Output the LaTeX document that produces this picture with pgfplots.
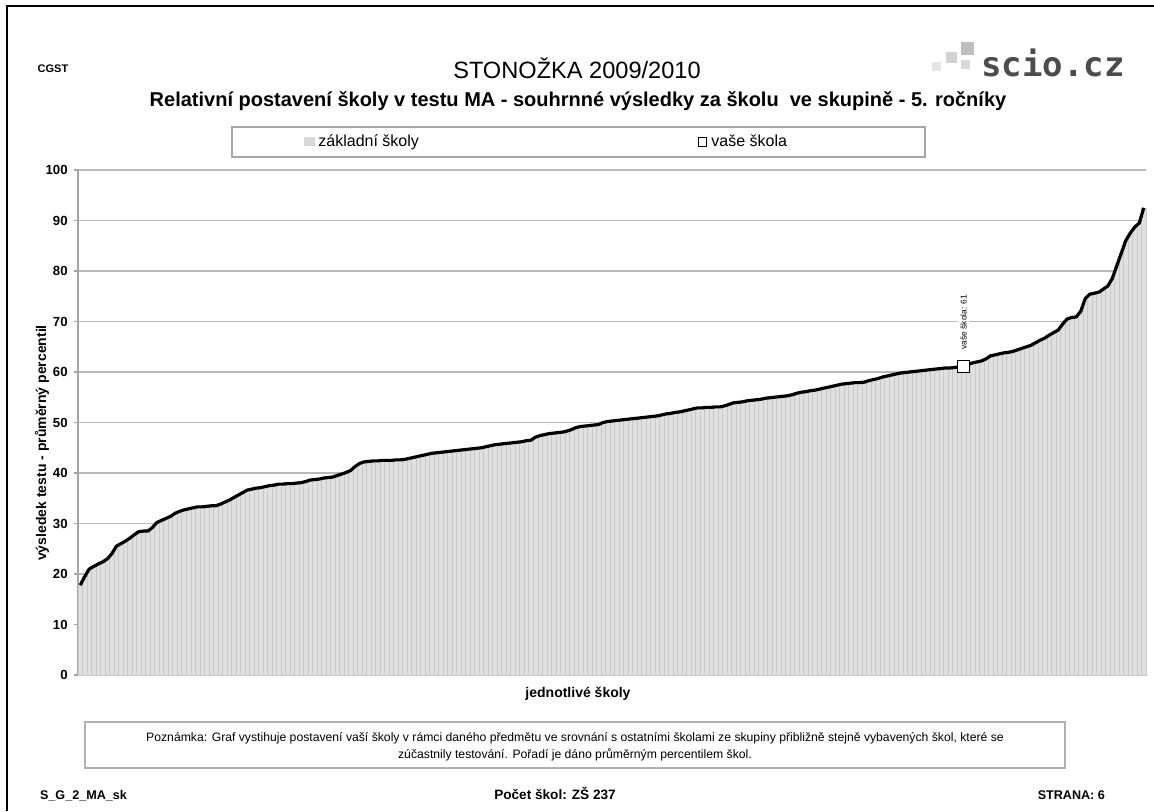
\documentclass[border=0pt]{standalone}
\usepackage{fontspec}
\setmainfont{Liberation Sans}
\newfontfamily\logofont{DejaVu Sans Mono}
\usepackage{pgfplots}
\pgfplotsset{compat=1.18}
\usepackage{pgfplotstable}

% average percentile of each school, sorted
\pgfplotstableread{
n v
1 17.8
2 19.5
3 21.0
4 21.5
5 22.0
6 22.4
7 23.0
8 24.0
9 25.5
10 26.0
11 26.5
12 27.1
13 27.8
14 28.4
15 28.5
16 28.5
17 29.2
18 30.2
19 30.6
20 31.0
21 31.4
22 32.0
23 32.4
24 32.7
25 32.9
26 33.1
27 33.3
28 33.3
29 33.4
30 33.5
31 33.5
32 33.8
33 34.2
34 34.6
35 35.1
36 35.6
37 36.1
38 36.6
39 36.8
40 37.0
41 37.1
42 37.3
43 37.5
44 37.6
45 37.8
46 37.8
47 37.9
48 37.9
49 38.0
50 38.1
51 38.3
52 38.6
53 38.7
54 38.8
55 39.0
56 39.1
57 39.2
58 39.5
59 39.8
60 40.1
61 40.5
62 41.3
63 41.9
64 42.2
65 42.3
66 42.4
67 42.4
68 42.5
69 42.5
70 42.5
71 42.6
72 42.6
73 42.7
74 42.9
75 43.1
76 43.3
77 43.5
78 43.7
79 43.9
80 44.0
81 44.1
82 44.2
83 44.3
84 44.4
85 44.5
86 44.6
87 44.7
88 44.8
89 44.9
90 45.0
91 45.2
92 45.4
93 45.6
94 45.7
95 45.8
96 45.9
97 46.0
98 46.1
99 46.2
100 46.4
101 46.5
102 47.1
103 47.4
104 47.6
105 47.8
106 47.9
107 48.0
108 48.1
109 48.3
110 48.6
111 49.0
112 49.2
113 49.3
114 49.4
115 49.5
116 49.6
117 50.0
118 50.2
119 50.3
120 50.4
121 50.5
122 50.6
123 50.7
124 50.8
125 50.9
126 51.0
127 51.1
128 51.2
129 51.3
130 51.5
131 51.7
132 51.8
133 52.0
134 52.1
135 52.3
136 52.5
137 52.7
138 52.9
139 52.9
140 53.0
141 53.0
142 53.1
143 53.1
144 53.3
145 53.6
146 53.9
147 54.0
148 54.1
149 54.3
150 54.4
151 54.5
152 54.6
153 54.8
154 54.9
155 55.0
156 55.1
157 55.2
158 55.3
159 55.5
160 55.8
161 56.0
162 56.1
163 56.3
164 56.4
165 56.6
166 56.8
167 57.0
168 57.2
169 57.4
170 57.6
171 57.7
172 57.8
173 57.9
174 57.9
175 58.0
176 58.3
177 58.5
178 58.7
179 59.0
180 59.2
181 59.4
182 59.6
183 59.8
184 59.9
185 60.0
186 60.1
187 60.2
188 60.3
189 60.4
190 60.5
191 60.6
192 60.7
193 60.8
194 60.8
195 60.9
196 61.0
197 61.0
198 61.5
199 61.8
200 62.0
201 62.2
202 62.6
203 63.2
204 63.4
205 63.6
206 63.8
207 63.9
208 64.1
209 64.4
210 64.7
211 65.0
212 65.3
213 65.8
214 66.3
215 66.7
216 67.3
217 67.8
218 68.3
219 69.5
220 70.5
221 70.8
222 70.9
223 72.0
224 74.5
225 75.4
226 75.6
227 75.8
228 76.4
229 77.0
230 78.5
231 81.0
232 83.5
233 86.0
234 87.5
235 88.7
236 89.5
237 92.5
}\skoly

\begin{document}
\begin{tikzpicture}
% page furniture, in pixels of the scanned page
\begin{scope}[x=0.5pt,y=-0.5pt]
\useasboundingbox (0,0) rectangle (1154,811);
\draw[line width=1.4pt] (7,811) -- (7,6) -- (1154,6);
\node[anchor=base, font=\bfseries\fontsize{5.5}{6}\selectfont] at (53,72) {CGST};
\node[anchor=base, font=\fontsize{11.8}{13}\selectfont] at (577,78) {STONOŽKA 2009/2010};
% scio logo
\fill[gray!20] (932,62) rectangle (941,71);
\fill[gray!35] (946,52) rectangle (957,63);
\fill[gray!50] (961,42) rectangle (974,55);
\fill[gray!30] (961,60) rectangle (970,69);
\node[font=\logofont\bfseries\fontsize{17}{18}\selectfont, text=black!70] at (1053,63) {scio.cz};
\node[anchor=base, font=\bfseries\fontsize{10}{11}\selectfont] at (578,106)
  {Relativní postavení školy v testu MA - souhrnné výsledky za školu\ \ ve skupině - 5. ročníky};
% legend
\draw[gray!70, line width=0.6pt] (232,127) rectangle (925,157);
\fill[gray!30] (304,137) rectangle (315,146);
\node[anchor=base west, font=\fontsize{8}{9}\selectfont, inner sep=1pt] at (316,146) {základní školy};
\draw[fill=white, line width=0.4pt] (698,137) rectangle (706,146);
\node[anchor=base west, font=\fontsize{8}{9}\selectfont, inner sep=1pt] at (709,146) {vaše škola};
% axis titles
\node[rotate=90, font=\bfseries\fontsize{7}{8}\selectfont] at (42,443) {výsledek testu - průměrný percentil};
\node[anchor=base, font=\bfseries\fontsize{7}{8}\selectfont] at (578,697) {jednotlivé školy};
% note
\draw[gray!60, line width=0.8pt] (85,722) rectangle (1065,768);
\node[anchor=base, font=\fontsize{6.1}{7}\selectfont] at (575,741) {Poznámka: Graf vystihuje postavení vaší školy v rámci daného předmětu ve srovnání s ostatními školami ze skupiny přibližně stejně vybavených škol, které se};
\node[anchor=base, font=\fontsize{6.1}{7}\selectfont] at (575,758) {zúčastnily testování. Pořadí je dáno průměrným percentilem škol.};
% footer
\node[anchor=base west, font=\bfseries\fontsize{6.3}{8}\selectfont] at (33,799) {S\_G\_2\_MA\_sk};
\node[anchor=base, font=\bfseries\fontsize{6.8}{8}\selectfont] at (555,799) {Počet škol: ZŠ 237};
\node[anchor=base east, font=\bfseries\fontsize{6.3}{8}\selectfont] at (1112,799) {STRANA: 6};
\end{scope}

\begin{axis}[
  at={(39pt,-337.5pt)}, anchor=south west,
  scale only axis, width=534pt, height=252.5pt,
  xmin=0.5, xmax=237.5, ymin=0, ymax=100,
  ytick={0,10,...,100}, xtick=\empty,
  axis x line*=bottom, axis y line*=left,
  axis line style={-, gray!70, line width=0.6pt},
  tick align=outside, major tick length=2pt,
  tick style={gray!70, line width=0.6pt},
  ymajorgrids, grid style={gray!55, line width=0.6pt},
  /pgf/number format/assume math mode=true,
  yticklabel style={font=\bfseries\fontsize{6.6}{7}\selectfont, inner sep=1pt, xshift=-2pt},
  clip=false,
]
\addplot[ybar, bar width=1, bar shift=0pt, fill=gray!24, draw=gray!42, line width=0.15pt]
  table[x=n, y=v] {\skoly};
\addplot[black, line width=1.6pt, line join=round] table[x=n, y=v] {\skoly};
\addplot[only marks, mark=square*, mark size=3pt, mark options={fill=white, draw=black, line width=0.5pt}]
  coordinates {(197,61)};
\node[rotate=90, anchor=west, fill=white, inner sep=1pt, font=\fontsize{4.2}{5}\selectfont]
  at (axis cs:197,64) {vaše škola: 61};
\end{axis}
\end{tikzpicture}
\end{document}
